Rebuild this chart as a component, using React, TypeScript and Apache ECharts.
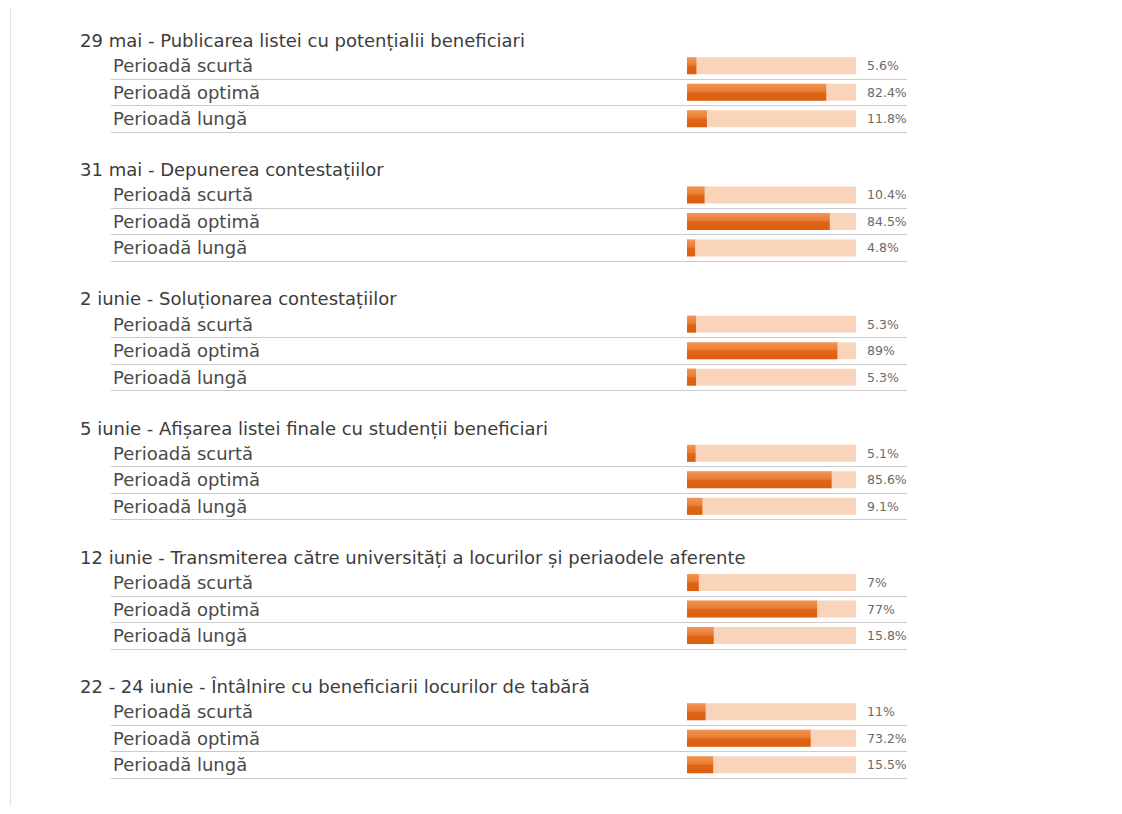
import React, { useEffect, useRef } from "react";
import * as echarts from "echarts";

const groupTitles = [
  "29 mai - Publicarea listei cu potențialii beneficiari",
  "31 mai - Depunerea contestațiilor",
  "2 iunie - Soluționarea contestațiilor",
  "5 iunie - Afișarea listei finale cu studenții beneficiari",
  "12 iunie - Transmiterea către universități a locurilor și periaodele aferente",
  "22 - 24 iunie - Întâlnire cu beneficiarii locurilor de tabără",
];
const rowLabels = ["Perioadă scurtă", "Perioadă optimă", "Perioadă lungă"];
const shortValues = [5.6, 10.4, 5.3, 5.1, 7, 11];
const optimalValues = [82.4, 84.5, 89, 85.6, 77, 73.2];
const longValues = [11.8, 4.8, 5.3, 9.1, 15.8, 15.5];

const FONT = "DejaVu Sans";

export default function App() {
  const ref = useRef<HTMLDivElement>(null);
  useEffect(() => {
    if (!ref.current) return;
    const chart = echarts.init(ref.current, null, { renderer: "svg" });
    const firstTop = 52.5;
    const groupStep = 129.2;
    const rowH = 26.5;
    const gh = rowH * 3;
    const grids: any[] = [];
    const xAxes: any[] = [];
    const yAxes: any[] = [];
    const series: any[] = [];
    const titles: any[] = [];
    groupTitles.forEach((t, k) => {
      const top = firstTop + groupStep * k;
      titles.push({
        text: t,
        left: 80,
        top: top - 22,
        padding: 0,
        textStyle: { fontFamily: FONT, fontSize: 18, fontWeight: "normal", color: "#3c3c3c", lineHeight: 20 },
      });
      // wide grid: row labels and separators
      grids.push({ left: 111, width: 796, top, height: gh });
      xAxes.push({ gridIndex: 2 * k, type: "value", min: 0, max: 1, show: false });
      yAxes.push({
        gridIndex: 2 * k,
        type: "category",
        inverse: true,
        data: rowLabels,
        axisLine: { show: false },
        axisTick: { show: false },
        axisLabel: {
          interval: 0,
          align: "left",
          margin: -2,
          fontFamily: FONT,
          fontSize: 18,
          color: "#4a4a4a",
        },
        splitLine: {
          show: true,
          interval: (idx: number) => idx > 0,
          lineStyle: { color: "#cbcbcb", width: 1 },
        },
      });
      // bar grid
      grids.push({ left: 687, width: 169, top, height: gh });
      xAxes.push({ gridIndex: 2 * k + 1, type: "value", min: 0, max: 100, show: false });
      yAxes.push({ gridIndex: 2 * k + 1, type: "category", inverse: true, data: rowLabels, show: false });
      series.push({
        type: "bar",
        xAxisIndex: 2 * k + 1,
        yAxisIndex: 2 * k + 1,
        data: [shortValues[k], optimalValues[k], longValues[k]],
        barWidth: 17,
        showBackground: true,
        backgroundStyle: { color: "#f9d4bb" },
        itemStyle: {
          color: new echarts.graphic.LinearGradient(0, 0, 0, 1, [
            { offset: 0, color: "#f19656" },
            { offset: 0.45, color: "#ea7c33" },
            { offset: 0.55, color: "#df6416" },
            { offset: 1, color: "#da600f" },
          ]),
        },
        label: {
          show: true,
          position: [180, "50%"],
          align: "left",
          verticalAlign: "middle",
          formatter: "{c}%",
          fontFamily: FONT,
          fontSize: 12.5,
          color: "#6a6a6a",
        },
      });
    });
    chart.setOption({
      animation: false,
      backgroundColor: "#ffffff",
      title: titles,
      grid: grids,
      xAxis: xAxes,
      yAxis: yAxes,
      series,
      graphic: [
        {
          type: "line",
          shape: { x1: 10.5, y1: 8, x2: 10.5, y2: 806 },
          style: { stroke: "#e2e2e2", lineWidth: 1 },
        },
      ],
    });
    return () => chart.dispose();
  }, []);
  return (
    <div
      ref={ref}
      style={{ position: "absolute", left: 0, top: 0, width: 1122, height: 814 }}
    />
  );
}
